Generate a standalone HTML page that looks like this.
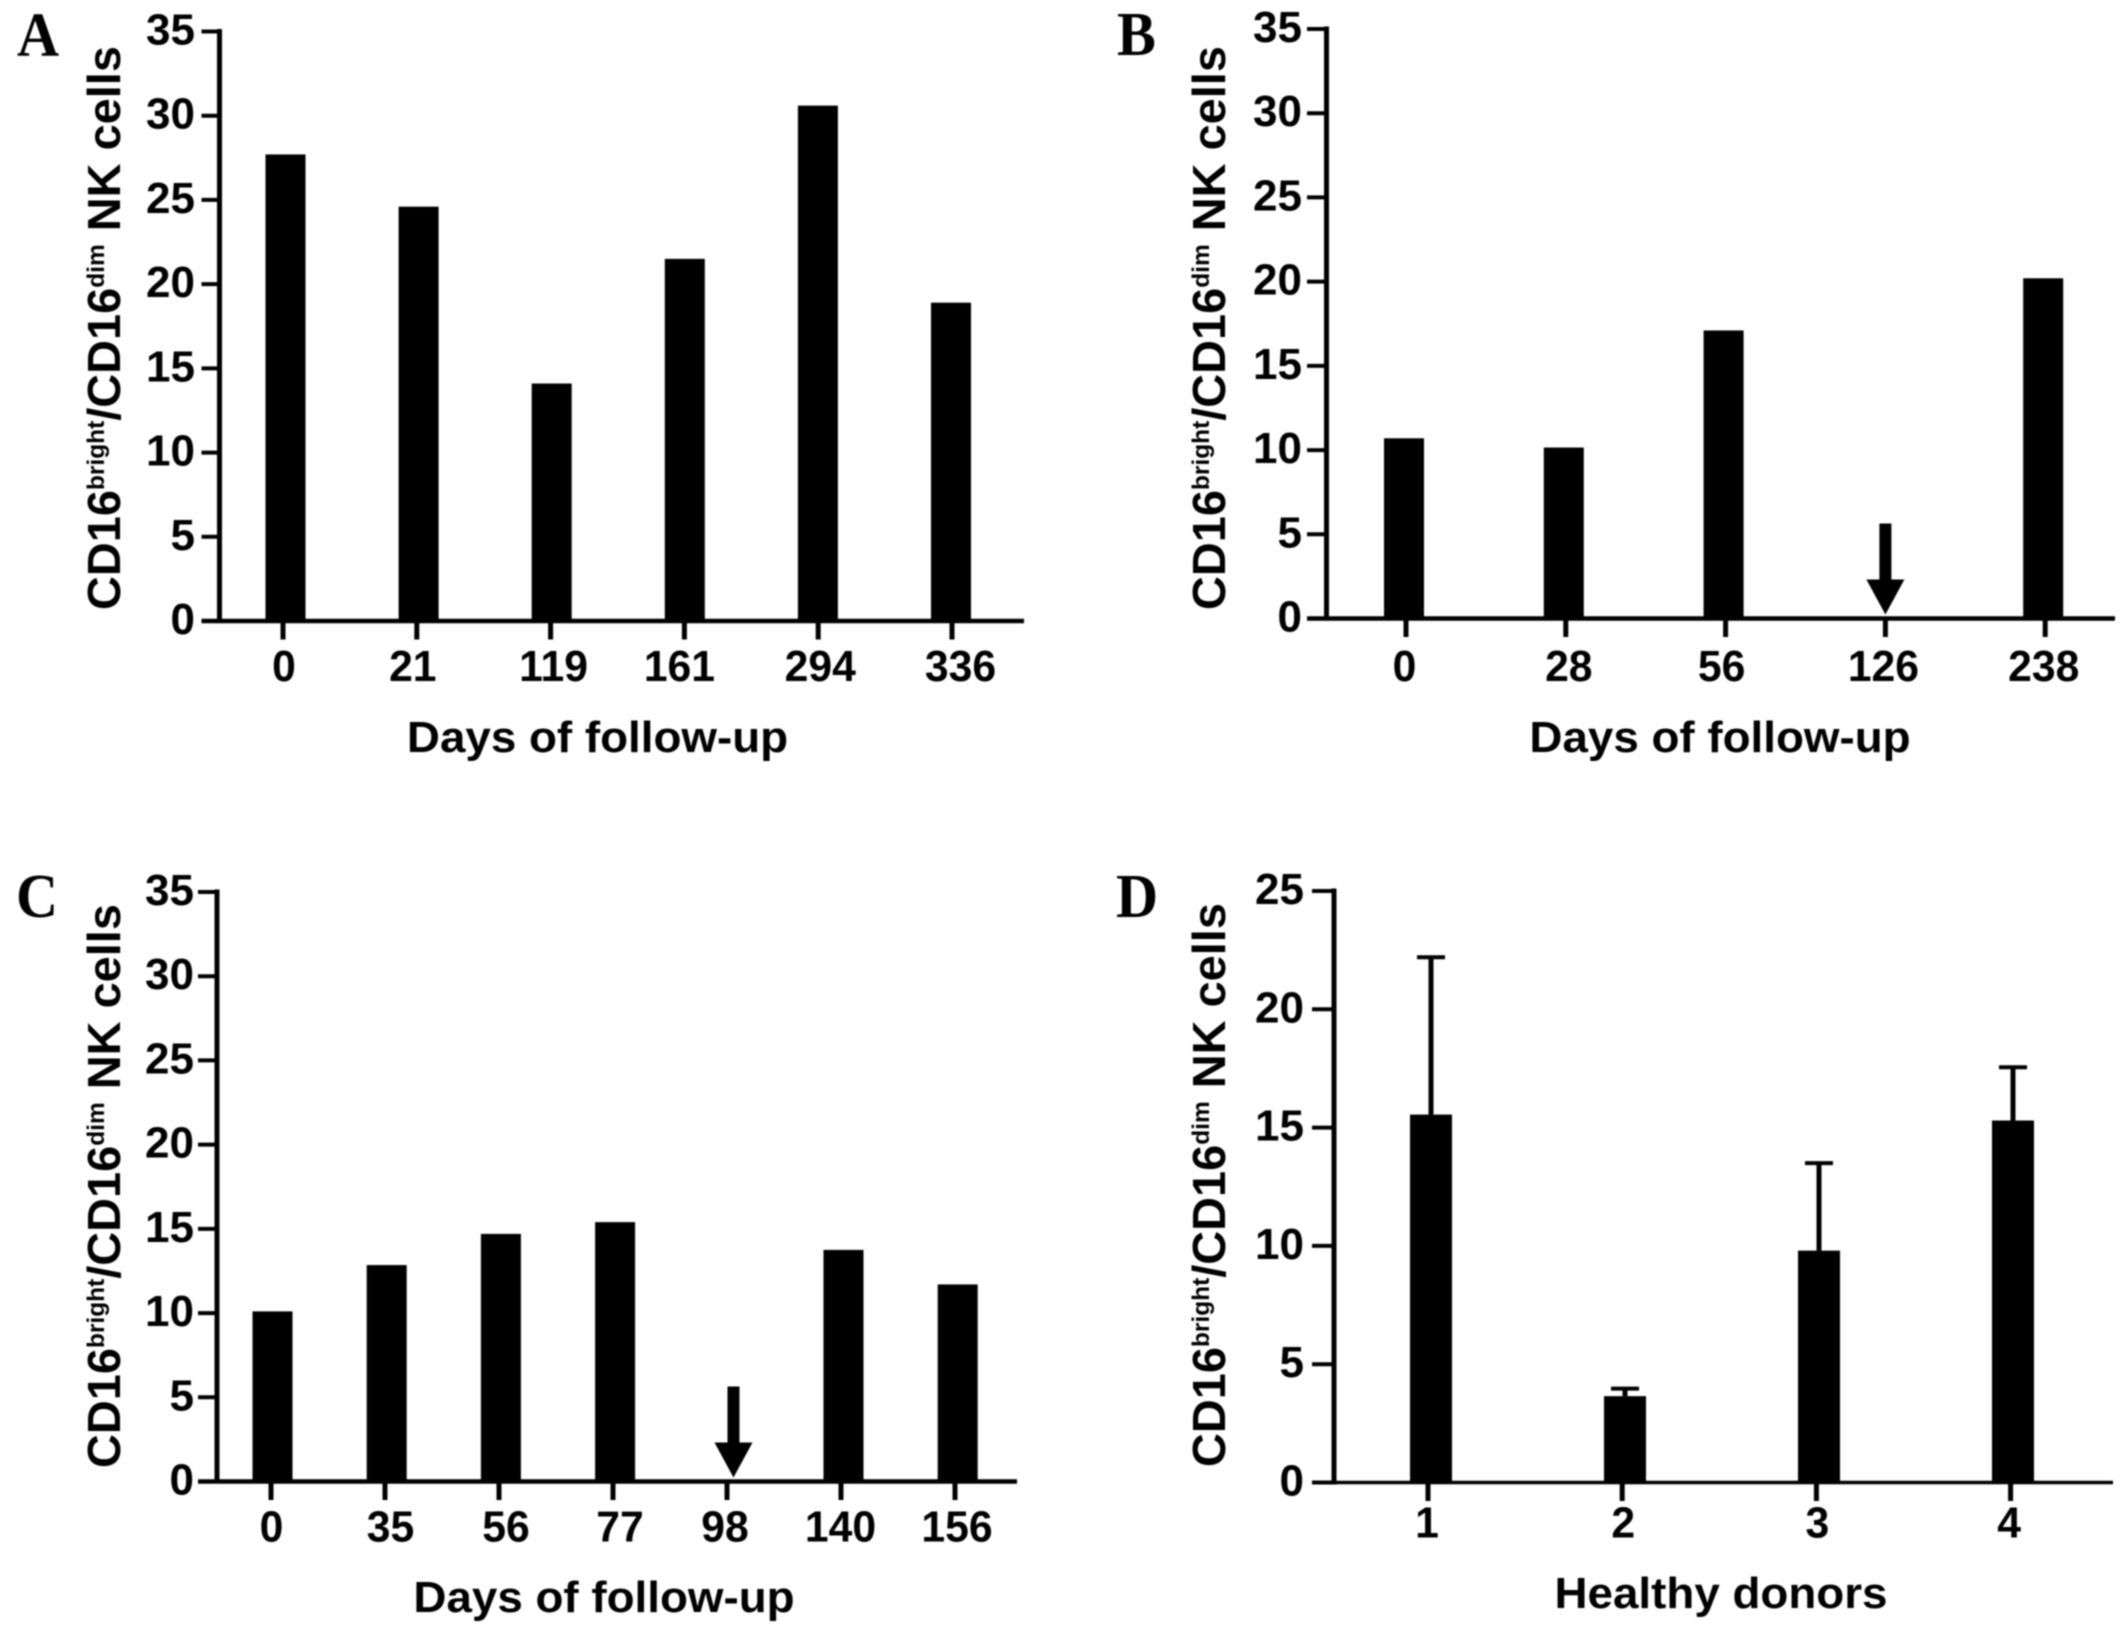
<!DOCTYPE html>
<html lang="en">
<head>
<meta charset="utf-8">
<title>CD16 bright/dim NK cell ratios</title>
<style>
  html, body { margin: 0; padding: 0; background: #fff; overflow: hidden; }
  svg { display: block; }
  text { font-family: "Liberation Sans", sans-serif; font-weight: bold; fill: #000; }
  .letter { font-family: "Liberation Serif", serif; font-size: 62px; }
  .ytitle { font-size: 46px; }
  .ytitle tspan.sup { font-size: 24px; }
  .xtitle { font-size: 44px; }
  #figure { filter: blur(0.9px); }
</style>
</head>
<body>
<svg id="figure" xmlns="http://www.w3.org/2000/svg" width="2127" height="1633" viewBox="0 0 2127 1633">
  <rect width="2127" height="1633" fill="#fff"/>

  <g id="panel-a">
    <text class="letter" transform="translate(17,55.5) scale(0.94,1)">A</text>
    <text class="ytitle" transform="translate(120,610) rotate(-90) scale(1.02,1)">CD16<tspan class="sup" dy="-16">bright</tspan><tspan dy="16">/CD16</tspan><tspan class="sup" dy="-16">dim</tspan><tspan dy="16"> NK cells</tspan></text>
    <text class="xtitle" text-anchor="middle" transform="translate(597.5,752) scale(1.04,1)">Days of follow-up</text>
  </g>

  <g id="panel-b">
    <text class="letter" transform="translate(1117,55) scale(0.94,1)">B</text>
    <text class="ytitle" transform="translate(1225,610) rotate(-90) scale(1.02,1)">CD16<tspan class="sup" dy="-16">bright</tspan><tspan dy="16">/CD16</tspan><tspan class="sup" dy="-16">dim</tspan><tspan dy="16"> NK cells</tspan></text>
    <text class="xtitle" text-anchor="middle" transform="translate(1720,752) scale(1.04,1)">Days of follow-up</text>
  </g>

  <g id="panel-c">
    <text class="letter" transform="translate(16,917) scale(0.94,1)">C</text>
    <text class="ytitle" transform="translate(120,1468) rotate(-90) scale(1.02,1)">CD16<tspan class="sup" dy="-16">bright</tspan><tspan dy="16">/CD16</tspan><tspan class="sup" dy="-16">dim</tspan><tspan dy="16"> NK cells</tspan></text>
    <text class="xtitle" text-anchor="middle" transform="translate(604,1612) scale(1.04,1)">Days of follow-up</text>
  </g>

  <g id="panel-d">
    <text class="letter" transform="translate(1116,917) scale(0.94,1)">D</text>
    <text class="ytitle" transform="translate(1225,1467) rotate(-90) scale(1.02,1)">CD16<tspan class="sup" dy="-16">bright</tspan><tspan dy="16">/CD16</tspan><tspan class="sup" dy="-16">dim</tspan><tspan dy="16"> NK cells</tspan></text>
    <text class="xtitle" text-anchor="middle" transform="translate(1721,1608) scale(1.04,1)">Healthy donors</text>
  </g>
</svg>

<script>
// Chart data
const panelACategories = ["0", "21", "119", "161", "294", "336"];
const panelAValues = [27.7, 24.6, 14.1, 21.5, 30.6, 18.9];
const panelATicks = [0, 5, 10, 15, 20, 25, 30, 35];

const panelBCategories = ["0", "28", "56", "126", "238"];
const panelBValues = [10.7, 10.15, 17.1, 0, 20.2];
const panelBTicks = [0, 5, 10, 15, 20, 25, 30, 35];
const panelBArrowCategories = ["126"];

const panelCCategories = ["0", "35", "56", "77", "98", "140", "156"];
const panelCValues = [10.1, 12.85, 14.7, 15.4, 0, 13.75, 11.7];
const panelCTicks = [0, 5, 10, 15, 20, 25, 30, 35];
const panelCArrowCategories = ["98"];

const panelDCategories = ["1", "2", "3", "4"];
const panelDValues = [15.55, 3.65, 9.8, 15.3];
const panelDErrorTops = [22.2, 3.97, 13.5, 17.55];
const panelDTicks = [0, 5, 10, 15, 20, 25];

const SVG_NS = "http://www.w3.org/2000/svg";

function make(tag, attrs, parent) {
  const el = document.createElementNS(SVG_NS, tag);
  for (const k in attrs) el.setAttribute(k, attrs[k]);
  parent.appendChild(el);
  return el;
}

function drawPanel(cfg) {
  const root = document.getElementById(cfg.id);
  const yMax = cfg.ticks[cfg.ticks.length - 1];
  const yScale = v => cfg.y0 - (v / yMax) * (cfg.y0 - cfg.yTop);
  const tickX = i => cfg.tickX0 + i * cfg.tickStep;
  const barX = i => cfg.barX0 + i * cfg.barStep;
  const arrows = cfg.arrows || [];

  cfg.values.forEach((v, i) => {
    if (v <= 0) return;
    const bar = make("rect", {
      x: barX(i) - cfg.barWidth / 2,
      y: yScale(v),
      width: cfg.barWidth,
      height: cfg.y0 - yScale(v),
      fill: "#000"
    }, root);
    
    
  });

  if (cfg.errorTops) {
    cfg.errorTops.forEach((top, i) => {
      const cx = barX(i);
      const stem = make("line", {
        x1: cx, x2: cx, y1: yScale(cfg.values[i]), y2: yScale(top),
        stroke: "#000", "stroke-width": 5
      }, root);
      
      
      const cap = make("line", {
        x1: cx - 14, x2: cx + 14, y1: yScale(top), y2: yScale(top),
        stroke: "#000", "stroke-width": 4
      }, root);
      
      
    });
  }

  arrows.forEach(label => {
    const cx = tickX(cfg.categories.indexOf(label)) + cfg.arrowShift;
    const tip = yScale(0) - 4;
    const arrow = make("path", {
      d: `M${cx - 6} ${tip - 91}H${cx + 6}V${tip - 35}H${cx + 19}L${cx} ${tip}L${cx - 19} ${tip - 35}H${cx - 6}Z`,
      fill: "#000"
    }, root);
    
    
  });

  const yAxis = make("line", {
    x1: cfg.axisX, x2: cfg.axisX, y1: cfg.yTop - 2.5, y2: cfg.y0 + 2,
    stroke: "#000", "stroke-width": 5
  }, root);
  
  

  const xAxis = make("line", {
    x1: cfg.axisX - cfg.yTickLen, x2: cfg.xEnd, y1: cfg.y0, y2: cfg.y0,
    stroke: "#000", "stroke-width": cfg.xAxisWidth
  }, root);
  
  

  cfg.ticks.forEach(t => {
    const y = yScale(t);
    const tick = make("line", {
      x1: cfg.axisX - cfg.yTickLen, x2: cfg.axisX, y1: y, y2: y,
      stroke: "#000", "stroke-width": 4
    }, root);
    
    
    const label = make("text", {
      "text-anchor": "end",
      "font-size": 44,
      transform: `translate(${cfg.yLabelRight},${y + 13})`
    }, root);
    label.textContent = String(t);
    
    
  });

  cfg.categories.forEach((c, i) => {
    const x = tickX(i);
    const tick = make("line", {
      x1: x, x2: x, y1: cfg.y0, y2: cfg.y0 + 18.5,
      stroke: "#000", "stroke-width": 5
    }, root);
    
    
    const label = make("text", {
      "text-anchor": "middle",
      "font-size": 44,
      transform: `translate(${x + cfg.labelNudge[i]},${cfg.labelY}) scale(0.97,1)`
    }, root);
    label.textContent = c;
    
    
  });
}

drawPanel({
  id: "panel-a", categories: panelACategories, values: panelAValues, ticks: panelATicks,
  axisX: 219.5, yTop: 31.5, y0: 621, xEnd: 1024, yTickLen: 18, yLabelRight: 195, xAxisWidth: 4.5,
  tickX0: 283, tickStep: 133.8, barX0: 285.5, barStep: 133.1, barWidth: 40, labelY: 681,
  labelNudge: [1, -4, 3, -5, 2, 8.5]
});
drawPanel({
  id: "panel-b", categories: panelBCategories, values: panelBValues, ticks: panelBTicks,
  arrows: panelBArrowCategories, arrowShift: 0,
  axisX: 1326.5, yTop: 29, y0: 618.5, xEnd: 2115, yTickLen: 19.5, yLabelRight: 1302, xAxisWidth: 4.5,
  tickX0: 1406, tickStep: 159.8, barX0: 1404, barStep: 159.8, barWidth: 40, labelY: 681,
  labelNudge: [-1.5, 3, -4, -2, -1.5]
});
drawPanel({
  id: "panel-c", categories: panelCCategories, values: panelCValues, ticks: panelCTicks,
  arrows: panelCArrowCategories, arrowShift: 6.5,
  axisX: 217, yTop: 892, y0: 1481.5, xEnd: 1017, yTickLen: 19, yLabelRight: 194, xAxisWidth: 4.5,
  tickX0: 271, tickStep: 114, barX0: 272.5, barStep: 114.2, barWidth: 40, labelY: 1541.5,
  labelNudge: [0.5, 5.5, 7, 7, -2, -0.5, 2]
});
drawPanel({
  id: "panel-d", categories: panelDCategories, values: panelDValues, errorTops: panelDErrorTops, ticks: panelDTicks,
  arrowShift: 0,
  axisX: 1334, yTop: 891, y0: 1482.5, xEnd: 2113, yTickLen: 22, yLabelRight: 1304, xAxisWidth: 3.5,
  tickX0: 1428, tickStep: 194.2, barX0: 1431, barStep: 194, barWidth: 42, labelY: 1537.5,
  labelNudge: [-1, 1, 1, -1.5]
});
</script>
</body>
</html>
